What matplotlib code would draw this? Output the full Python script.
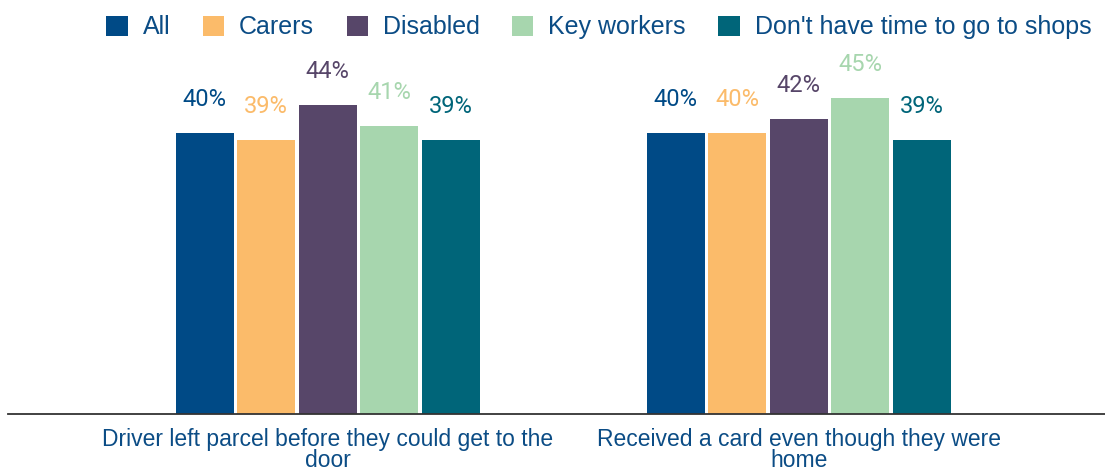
import matplotlib.pyplot as plt
import numpy as np

categories = ["Driver left parcel before they could get to the\ndoor",
              "Received a card even though they were\nhome"]
series = ["All", "Carers", "Disabled", "Key workers", "Don't have time to go to shops"]
values = [
    [40, 40],   # All
    [39, 40],   # Carers
    [44, 42],   # Disabled
    [41, 45],   # Key workers
    [39, 39],   # Don't have time to go to shops
]
colors = ["#004A86", "#FBBB6A", "#574669", "#A7D6AE", "#006579"]
text_blue = "#0B4C85"

fig = plt.figure(figsize=(11.05, 4.71), dpi=100)
ax = fig.add_axes([8 / 1105, 57 / 471, 1 - 8 / 1105, 1 - 57 / 471 - 28 / 471])

x = np.arange(len(categories))
width = 0.123
pitch = 0.1306
for i, (name, vals, c) in enumerate(zip(series, values, colors)):
    pos = x + (i - 2) * pitch
    ax.bar(pos, vals, width=width, color=c, label=name)
    for px, v in zip(pos, vals):
        ax.text(px, v + 4.8, f"{v}%", ha="center", va="center",
                color=c, fontsize=17, family=["Roboto", "DejaVu Sans"])

ax.set_xlim(-0.679, 1.65)
ax.set_ylim(0, 55)
ax.set_yticks([])
ax.set_xticks(x)
ax.set_xticklabels(categories, fontsize=16.5, color=text_blue, linespacing=0.92,
                   family=["Liberation Sans"])
ax.tick_params(axis="x", length=0, pad=10)
for s in ["top", "right", "left"]:
    ax.spines[s].set_visible(False)
ax.spines["bottom"].set_color("#333333")
ax.spines["bottom"].set_linewidth(1.3)

leg = fig.legend(loc="upper center", bbox_to_anchor=(0.542, 1.015), ncol=5,
                 frameon=False, handlelength=0.85, handleheight=0.85,
                 handletextpad=0.6, columnspacing=1.3,
                 prop={"family": "Liberation Sans", "size": 18})
for t in leg.get_texts():
    t.set_color(text_blue)

fig.savefig("out.png", dpi=100)
